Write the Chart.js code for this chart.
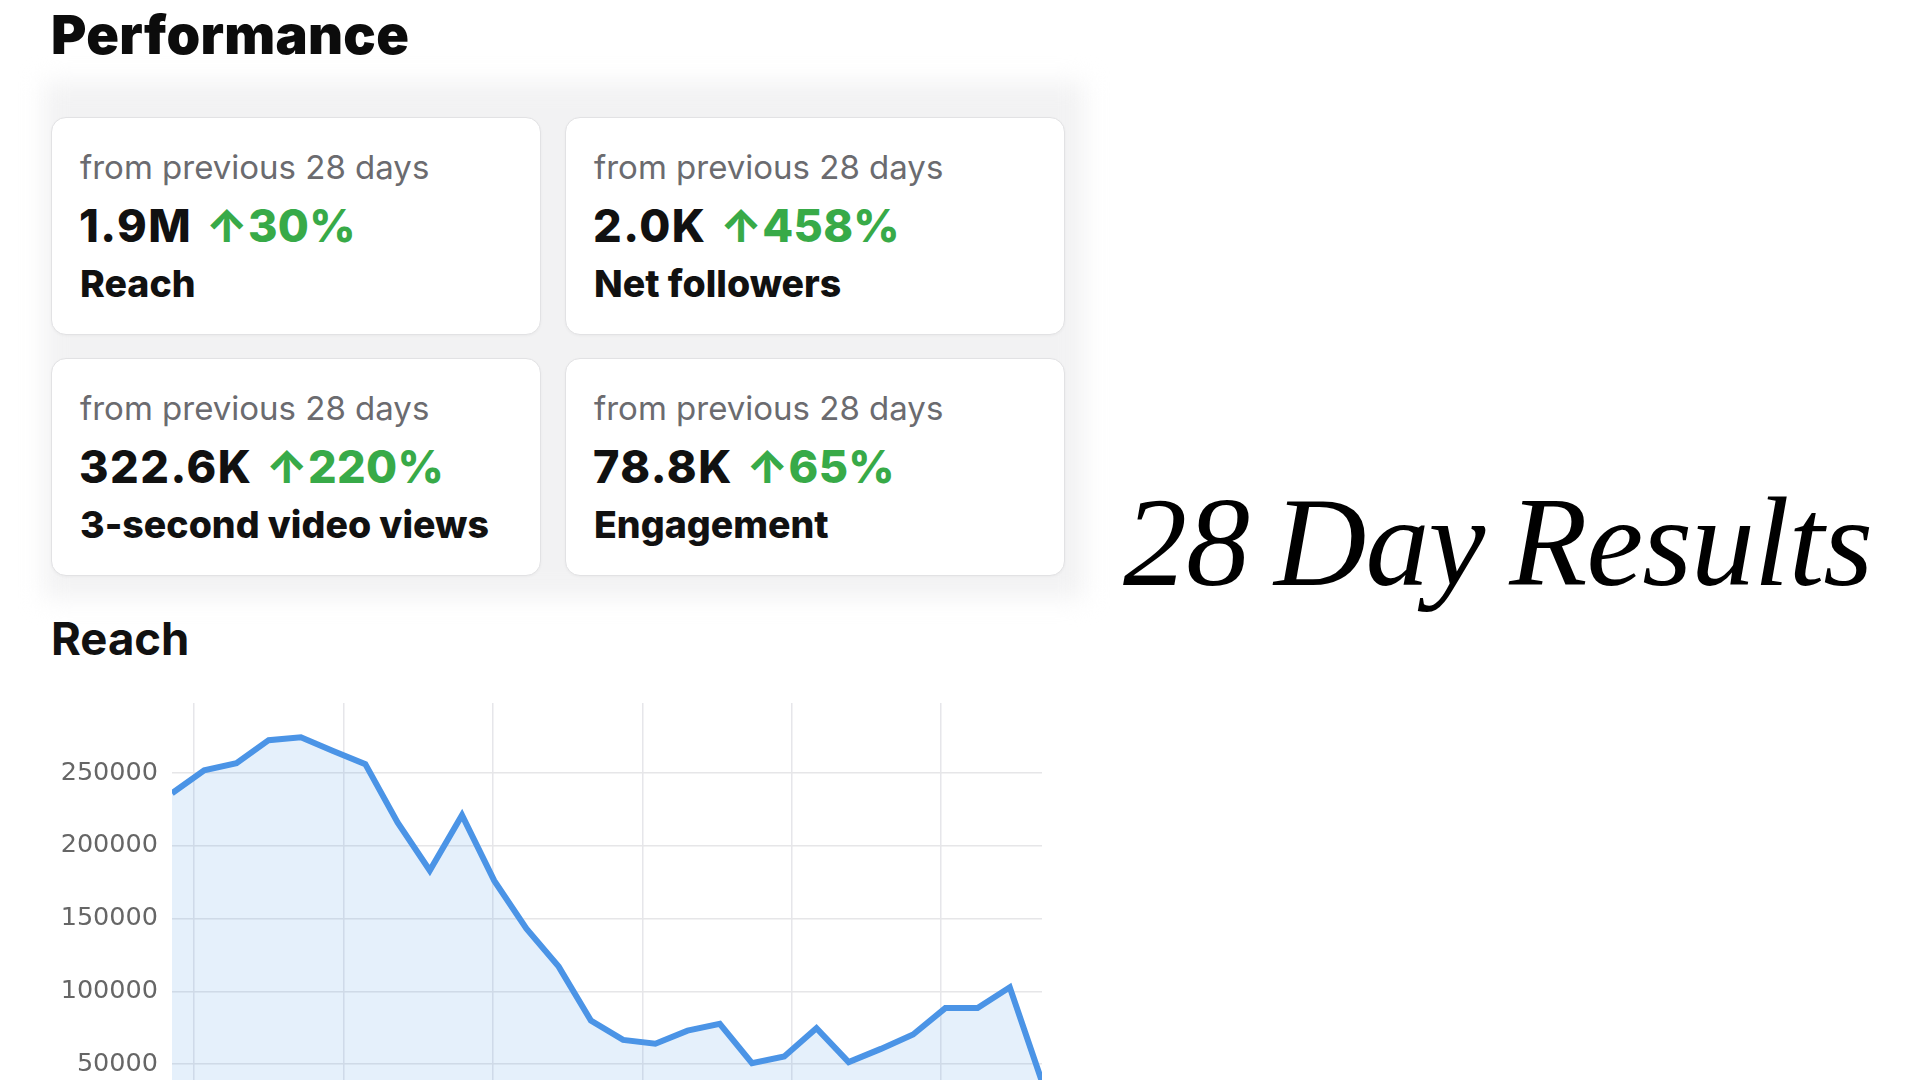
<!DOCTYPE html>
<html>
<head>
<meta charset="utf-8">
<script src="https://cdn.jsdelivr.net/npm/chart.js@4.4.1/dist/chart.umd.min.js"></script>
<style>
  html, body { margin: 0; padding: 0; background: #fff; }
  body { width: 1920px; height: 1080px; overflow: hidden; position: relative; font-family: Inter, "Noto Sans", sans-serif; }
  .abs { position: absolute; line-height: 1; white-space: nowrap; }
  .backdrop { position: absolute; left: 44px; top: 82px; width: 1040px; height: 516px; background: #f2f2f3; filter: blur(12px); }
  .card { position: absolute; background: #fff; border: 1.5px solid #e2e2e4; border-radius: 15px; box-sizing: border-box; box-shadow: 0 1px 3px rgba(0,0,0,0.04); }
  .card .sub { left: 28px; top: 33px; font-size: 33px; color: #6b6b6f; font-weight: 400; }
  .card .val { left: 27px; top: 85px; font-size: 45px; color: #111; font-weight: 800; letter-spacing: 1.5px; }
  .card .val .pct { color: #38aa48; margin-left: 2px; letter-spacing: 0.3px; }
  .card .lab { left: 28px; top: 147px; font-size: 37.5px; color: #111; font-weight: 800; }
  #title { left: 51px; top: 8px; font-size: 54px; font-weight: 900; color: #0c0c0c; letter-spacing: 0.3px; }
  #reachTitle { left: 51px; top: 616px; font-size: 45.5px; font-weight: 700; color: #111; }
  #bigText { left: 1123px; top: 478px; font-family: "Liberation Serif", "DejaVu Serif", serif; font-style: italic; font-size: 128px; color: #000; letter-spacing: -1px; word-spacing: -6px; }
  #chartBox { position: absolute; left: 0; top: 690px; width: 1060px; height: 460px; }
</style>
</head>
<body>
<div class="backdrop"></div>
<div id="title" class="abs">Performance</div>
<div id="cards"></div>
<div id="reachTitle" class="abs">Reach</div>
<div id="bigText" class="abs">28 Day Results</div>
<div id="chartBox"><canvas id="reachChart"></canvas></div>

<script>
// === Cartes de performance ===
const cardTitles = ['Reach', 'Net followers', '3-second video views', 'Engagement'];
const cardValues = ['1.9M', '2.0K', '322.6K', '78.8K'];
const cardChanges = ['30%', '458%', '220%', '65%'];
const cardSubtitle = 'from previous 28 days';

// === Données du graphique Reach (28 jours) ===
const reachDays = ['1', '2', '3', '4', '5', '6', '7', '8', '9', '10', '11', '12', '13', '14',
  '15', '16', '17', '18', '19', '20', '21', '22', '23', '24', '25', '26', '27', '28'];
const reachValues = [236000, 251800, 256700, 272500, 274500, 265000, 256000, 216000, 183000, 221000,
  176000, 143000, 117000, 80000, 66700, 64000, 73000, 77700, 50700, 55300,
  74700, 51400, 60500, 70400, 88500, 88500, 102800, 38000];
const yTicks = [0, 50000, 100000, 150000, 200000, 250000];
const xGridTicks = [0.69, 5.325, 9.96, 14.595, 19.23, 23.865];

function afficherCartes() {
  const pos = [
    { left: 51, top: 117, w: 490, h: 218 },
    { left: 565, top: 117, w: 500, h: 218 },
    { left: 51, top: 358, w: 490, h: 218 },
    { left: 565, top: 358, w: 500, h: 218 }
  ];
  let html = '';
  cardTitles.forEach((t, i) => {
    const p = pos[i];
    html += `
      <div class="card" style="left:${p.left}px; top:${p.top}px; width:${p.w}px; height:${p.h}px;">
        <div class="abs sub">${cardSubtitle}</div>
        <div class="abs val">${cardValues[i]} <span class="pct">\u2191${cardChanges[i]}</span></div>
        <div class="abs lab">${t}</div>
      </div>`;
  });
  document.getElementById('cards').innerHTML = html;
}

function afficherGraphique() {
  const ctx = document.getElementById('reachChart').getContext('2d');
  new Chart(ctx, {
    type: 'line',
    data: {
      labels: reachDays,
      datasets: [{
        data: reachValues.map((v, i) => ({ x: i, y: v })),
        borderColor: '#4b94e6',
        backgroundColor: 'rgba(74, 146, 228, 0.14)',
        borderWidth: 6,
        pointRadius: 0,
        tension: 0,
        fill: 'origin'
      }]
    },
    options: {
      responsive: true,
      maintainAspectRatio: false,
      animation: false,
      layout: { padding: { top: 13, right: 18, bottom: 13, left: 0 } },
      plugins: { legend: { display: false }, tooltip: { enabled: false } },
      scales: {
        x: {
          type: 'linear',
          min: 0,
          max: reachDays.length - 1,
          afterBuildTicks: scale => { scale.ticks = xGridTicks.map(v => ({ value: v })); },
          ticks: { display: false },
          grid: { color: '#e6e6ea', lineWidth: 1.5, drawTicks: false },
          border: { display: false }
        },
        y: {
          min: 0,
          max: 298000,
          afterBuildTicks: scale => { scale.ticks = yTicks.map(v => ({ value: v })); },
          afterFit: scale => { scale.width = 172; scale.paddingTop = 0; scale.paddingBottom = 0; },
          ticks: {
            padding: 14,
            color: '#666',
            font: { family: 'DejaVu Sans', size: 25.5, lineHeight: 0.05 },
            callback: v => String(v)
          },
          grid: { color: '#e6e6e8', lineWidth: 1.5, drawTicks: false },
          border: { display: false }
        }
      }
    }
  });
}

afficherCartes();
afficherGraphique();
</script>
</body>
</html>
